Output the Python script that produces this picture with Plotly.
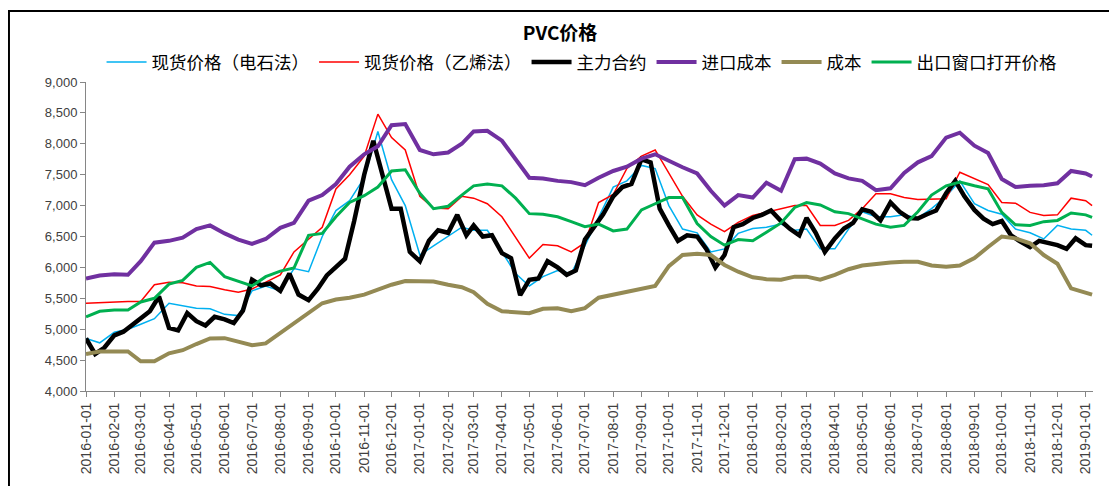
"""PVC 价格走势 - Plotly."""

import plotly.graph_objects as go

# 半月数据日期 (每月 1 日、16 日)
half_month_dates = [f"{y}-{m:02d}-{d:02d}" for y in (2016, 2017, 2018)
                    for m in range(1, 13) for d in (1, 16)] + ["2019-01-01", "2019-01-08"]

# 主力合约日期 (每月 1、11、21 日)
futures_dates = [f"{y}-{m:02d}-{d:02d}" for y in (2016, 2017, 2018)
                 for m in range(1, 13) for d in (1, 11, 21)] + ["2019-01-01", "2019-01-08"]

spot_carbide = [
    4850, 4780, 4950, 5000, 5080, 5170, 5420, 5380, 5340, 5330, 5240, 5220,
    5620, 5700, 5620, 5980, 5930, 6500, 6920, 7080, 7450, 8200, 7420, 7000,
    6200, 6350, 6500, 6650, 6600, 6600, 6250, 5900, 5700, 5850, 5950, 5900,
    6350, 6800, 7300, 7400, 7650, 7600, 7000, 6620, 6560, 6250, 6300, 6550,
    6630, 6650, 6700, 6600, 6620, 6300, 6300, 6620, 6900, 6820, 6820, 6850,
    6800, 6950, 7150, 7400, 7030, 6920, 6860, 6620, 6560, 6460, 6680, 6620,
    6600, 6520,
]

spot_ethylene = [
    5420, 5430, 5450, 5450, 5450, 5720, 5760, 5750, 5700, 5690, 5640, 5600,
    5650, 5760, 5880, 6250, 6460, 6650, 7270, 7500, 7800, 8480, 8100, 7900,
    7150, 6960, 6950, 7150, 7120, 7030, 6820, 6480, 6150, 6370, 6350, 6250,
    6400, 7050, 7180, 7600, 7800, 7900, 7530, 7150, 6850, 6700, 6580, 6730,
    6840, 6890, 6950, 7000, 7000, 6680, 6680, 6760, 6950, 7190, 7190, 7130,
    7100, 7100, 7110, 7540, 7430, 7340, 7050, 7040, 6890, 6840, 6850, 7120,
    7080, 7000,
]

futures_main = [
    4850, 4600, 4700, 4900, 4960, 5080, 5180, 5290, 5530, 5020, 4980, 5260,
    5130, 5060, 5200, 5160, 5100, 5300, 5800, 5710, 5740, 5620, 5900, 5560,
    5470, 5650, 5870, 6000, 6140, 6750, 7500, 8050, 7500, 6950, 6950, 6250,
    6100, 6430, 6600, 6560, 6850, 6520, 6680, 6500, 6520, 6230, 6150, 5550,
    5800, 5820, 6100, 6000, 5880, 5950, 6450, 6650, 6860, 7150, 7300, 7350,
    7750, 7700, 6950, 6680, 6430, 6520, 6500, 6300, 6000, 6200, 6650, 6700,
    6800, 6850, 6920, 6750, 6620, 6520, 6800, 6560, 6250, 6470, 6630, 6720,
    6940, 6900, 6760, 7050, 6900, 6800, 6790, 6860, 6920, 7200, 7400, 7150,
    6930, 6790, 6700, 6750, 6520, 6420, 6330, 6430, 6400, 6360, 6300, 6470,
    6360, 6350,
]

import_cost = [
    5820, 5870, 5890, 5880, 6100, 6400, 6430, 6480, 6620, 6680, 6550, 6450,
    6380, 6460, 6640, 6720, 7080, 7170, 7350, 7630, 7830, 7960, 8300, 8320,
    7900, 7830, 7860, 8000, 8200, 8210, 8050, 7750, 7450, 7440, 7400, 7380,
    7330, 7450, 7560, 7630, 7760, 7830, 7720, 7620, 7520, 7240, 7000, 7170,
    7130, 7370, 7240, 7750, 7760, 7680, 7520, 7440, 7400, 7250, 7280, 7530,
    7700, 7800, 8100, 8180, 7970, 7850, 7430, 7300, 7320, 7330, 7360, 7560,
    7520, 7470,
]

cost = [
    4600, 4640, 4640, 4640, 4480, 4480, 4610, 4660, 4760, 4850, 4855, 4800,
    4740, 4770, 4940, 5100, 5250, 5420, 5480, 5510, 5560, 5640, 5720, 5780,
    5780, 5770, 5720, 5680, 5600, 5410, 5290, 5280, 5260, 5330, 5340, 5290,
    5340, 5510, 5560, 5600, 5650, 5700, 6020, 6200, 6220, 6200, 6040, 5930,
    5840, 5810, 5800, 5850, 5850, 5800, 5880, 5970, 6030, 6060, 6080, 6090,
    6090, 6030, 6010, 6030, 6150, 6330, 6500, 6470, 6390, 6200, 6060, 5660,
    5600, 5560,
]

export_window = [
    5200, 5290, 5310, 5310, 5440, 5500, 5730, 5790, 6000, 6080, 5850, 5770,
    5700, 5850, 5940, 5990, 6520, 6550, 6820, 7050, 7160, 7300, 7560, 7580,
    7200, 6950, 6990, 7170, 7320, 7350, 7320, 7120, 6870, 6860, 6820, 6740,
    6660, 6700, 6590, 6620, 6930, 7030, 7130, 7130, 6710, 6500, 6360, 6450,
    6430, 6570, 6720, 6970, 7050, 7010, 6900, 6870, 6780, 6700, 6650, 6680,
    6900, 7170, 7320, 7380, 7320, 7270, 6890, 6690, 6680, 6740, 6760, 6880,
    6850, 6810,
]

month_ticks = [f"{y}-{m:02d}-01" for y in (2016, 2017, 2018) for m in range(1, 13)] + ["2019-01-01"]

series = [
    ("现货价格（电石法）", half_month_dates, spot_carbide, "#00B0F0", 1.5),
    ("现货价格（乙烯法）", half_month_dates, spot_ethylene, "#FF0000", 1.5),
    ("主力合约", futures_dates, futures_main, "#000000", 4.5),
    ("进口成本", half_month_dates, import_cost, "#7030A0", 4),
    ("成本", half_month_dates, cost, "#948A54", 4),
    ("出口窗口打开价格", half_month_dates, export_window, "#00B050", 3),
]

fig = go.Figure()
for name, xs, ys, color, width in series:
    fig.add_trace(go.Scatter(
        x=xs, y=ys, mode="lines", name=name,
        line=dict(color=color, width=width),
    ))

axis_gray = "#868686"
# 页面 body 有 8px 外边距, 尺寸与边距按此扣除
fig.update_layout(
    width=1101, height=478,
    margin=dict(l=78, r=16, t=74, b=91),
    paper_bgcolor="white", plot_bgcolor="white",
    font=dict(family="Noto Sans CJK SC, Liberation Sans", color="#404040"),
    title=dict(
        text="<b>PVC价格</b>", x=0.5014, y=0.948, xanchor="center", yanchor="middle",
        font=dict(size=19, color="#000000", family="Noto Sans CJK SC"),
    ),
    legend=dict(
        orientation="h", x=0.4926, y=1.064, xanchor="center", yanchor="middle",
        font=dict(size=17.5, color="#000000"), itemwidth=40, tracegroupgap=0,
    ),
    showlegend=True,
)
fig.update_xaxes(
    type="date", range=["2016-01-01", "2019-01-09"],
    tickvals=month_ticks, ticktext=month_ticks, tickangle=-90,
    tickfont=dict(size=14, family="Liberation Sans", color="#404040"),
    showgrid=False, zeroline=False,
    showline=True, linecolor=axis_gray, linewidth=1,
    ticks="outside", tickcolor=axis_gray, ticklen=5,
)
fig.update_yaxes(
    range=[4000, 9000], dtick=500, tickformat=",",
    tickfont=dict(size=13, family="Liberation Sans", color="#404040"),
    showgrid=False, zeroline=False,
    showline=True, linecolor=axis_gray, linewidth=1,
    ticks="outside", tickcolor=axis_gray, ticklen=5,
)

# 外框
fig.add_shape(
    type="rect", xref="paper", yref="paper",
    x0=-0.0765, x1=1.04, y0=-0.45, y1=1.23,
    line=dict(color="#000000", width=2), layer="below",
)

fig.write_html("out.html")
